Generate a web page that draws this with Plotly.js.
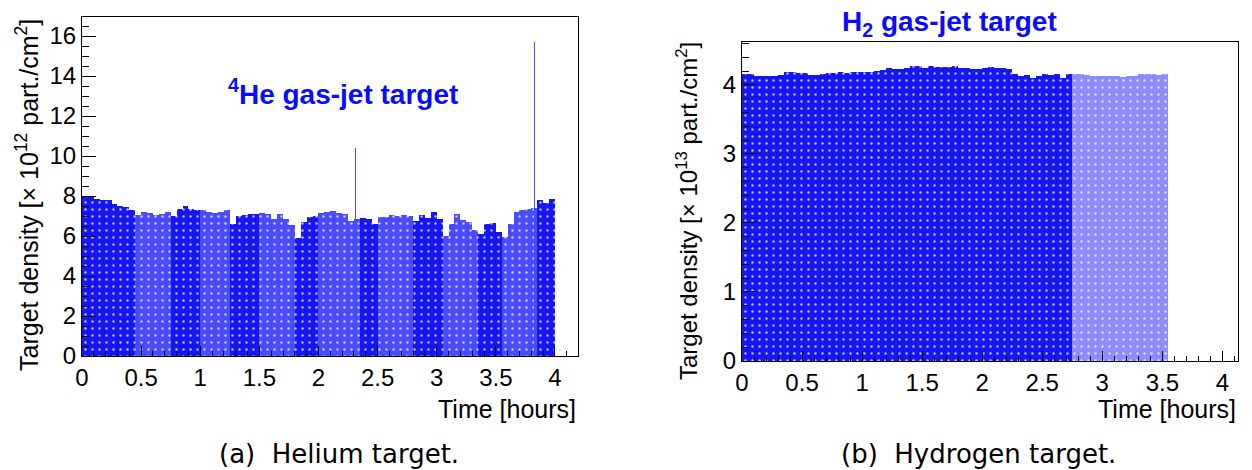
<!DOCTYPE html>
<html>
<head>
<meta charset="utf-8">
<script src="https://cdn.plot.ly/plotly-3.0.1.min.js"></script>
<style>
  html, body { margin: 0; padding: 0; background: #ffffff; }
  #chart { width: 1252px; height: 470px; }
</style>
</head>
<body>
<div id="chart"></div>
<script>
// ---------------- data ----------------
// (a) 4He gas-jet target: time bin centres [hours] and density [10^12 part./cm^2]
const heTime = [
  0.025,0.075,0.125,0.175,0.225,0.275,0.325,0.375,0.425,0.475,
  0.525,0.575,0.625,0.675,0.725,0.775,0.825,0.875,0.925,0.975,
  1.025,1.075,1.125,1.175,1.225,1.275,1.325,1.375,1.425,1.475,
  1.525,1.575,1.625,1.675,1.725,1.775,1.825,1.875,1.925,1.975,
  2.025,2.075,2.125,2.175,2.225,2.275,2.325,2.375,2.425,2.475,
  2.525,2.575,2.625,2.675,2.725,2.775,2.825,2.875,2.925,2.975,
  3.025,3.075,3.125,3.175,3.225,3.275,3.325,3.375,3.425,3.475,
  3.525,3.575,3.625,3.675,3.725,3.775,3.825,3.875,3.925,3.975
];
const heDensity = [
  7.95,7.95,7.85,7.80,7.80,7.60,7.50,7.45,7.30,7.05,
  7.20,7.15,7.05,7.10,7.20,7.00,7.35,7.50,7.35,7.30,
  7.30,7.20,7.15,7.20,7.30,6.60,7.00,7.05,7.10,7.10,
  7.15,7.10,6.85,7.10,6.85,6.55,5.90,6.70,6.95,7.00,
  7.15,7.20,7.25,7.15,7.10,6.75,6.85,6.90,6.85,6.60,
  6.95,6.95,7.05,7.00,7.05,7.00,6.75,7.05,6.90,7.20,
  6.85,6.00,6.60,7.10,6.80,6.70,6.30,6.10,6.60,6.65,
  6.20,5.95,6.60,7.20,7.30,7.35,7.40,7.80,7.65,7.85
];
// run the bin belongs to (0 = run A, 1 = run B)
const heRun = [
  0,0,0,0,0,0,0,0,0,1,
  1,1,1,1,1,0,0,0,0,0,
  1,1,1,1,1,0,0,0,0,0,
  1,1,1,1,1,1,0,0,0,0,
  1,1,1,1,1,1,1,0,0,0,
  1,1,1,1,1,1,0,0,0,0,
  0,1,1,1,1,1,1,0,0,0,
  0,1,1,1,1,1,1,0,0,0
];
const heSpikeTime = [2.31, 3.83];
const heSpikeDensity = [10.4, 15.7];

// (b) H2 gas-jet target: time bin centres [hours] and density [10^13 part./cm^2]
const h2Time = [
  0.025,0.075,0.125,0.175,0.225,0.275,0.325,0.375,0.425,0.475,
  0.525,0.575,0.625,0.675,0.725,0.775,0.825,0.875,0.925,0.975,
  1.025,1.075,1.125,1.175,1.225,1.275,1.325,1.375,1.425,1.475,
  1.525,1.575,1.625,1.675,1.725,1.775,1.825,1.875,1.925,1.975,
  2.025,2.075,2.125,2.175,2.225,2.275,2.325,2.375,2.425,2.475,
  2.525,2.575,2.625,2.675,2.725,2.775,2.825,2.875,2.925,2.975,
  3.025,3.075,3.125,3.175,3.225,3.275,3.325,3.375,3.425,3.475,
  3.525
];
const h2Density = [
  4.155,4.150,4.130,4.130,4.130,4.130,4.140,4.180,4.180,4.175,
  4.170,4.140,4.140,4.150,4.175,4.170,4.180,4.175,4.180,4.190,
  4.185,4.190,4.200,4.210,4.240,4.235,4.235,4.240,4.275,4.270,
  4.245,4.270,4.265,4.260,4.265,4.270,4.250,4.240,4.235,4.235,
  4.240,4.255,4.250,4.245,4.235,4.150,4.130,4.140,4.100,4.130,
  4.160,4.140,4.150,4.100,4.160,4.150,4.150,4.140,4.130,4.130,
  4.130,4.125,4.130,4.120,4.125,4.130,4.150,4.155,4.150,4.145,
  4.160
];
const h2Run = [
  0,0,0,0,0,0,0,0,0,0,
  0,0,0,0,0,0,0,0,0,0,
  0,0,0,0,0,0,0,0,0,0,
  0,0,0,0,0,0,0,0,0,0,
  0,0,0,0,0,0,0,0,0,0,
  0,0,0,0,0,1,1,1,1,1,
  1,1,1,1,1,1,1,1,1,1,
  1
];

const heTitle = '<b><sup>4</sup>He gas-jet target</b>';
const h2Title = '<b>H<sub>2</sub> gas-jet target</b>';
const heYTitle = 'Target density [× 10<sup>12</sup> part./cm<sup>2</sup>]';
const h2YTitle = 'Target density [× 10<sup>13</sup> part./cm<sup>2</sup>]';
const xTitle = 'Time [hours]';
const captionA = '(a)\u00a0 Helium target.';
const captionB = '(b)\u00a0 Hydrogen target.';

// ---------------- styling ----------------
const DARK = '#1616f4';
const HE_LIGHT = '#4a4aff';
const H2_LIGHT = '#8c8cff';
const FONT = 'Liberation Sans';

function pick(values, runs, want) {
  return values.map((v, i) => (runs[i] === want ? v : null));
}
function barTrace(x, y, color, xa, ya) {
  return {
    type: 'bar', x: x, y: y, xaxis: xa, yaxis: ya,
    marker: {
      color: color,
      line: { width: 0 },
      pattern: { shape: '.', fillmode: 'overlay', fgcolor: '#ffffff', fgopacity: 0.7, size: 7, solidity: 0.1 }
    },
    hoverinfo: 'x+y', showlegend: false
  };
}

const traces = [
  barTrace(heTime, pick(heDensity, heRun, 0), DARK, 'x', 'y'),
  barTrace(heTime, pick(heDensity, heRun, 1), HE_LIGHT, 'x', 'y'),
  {
    type: 'bar', x: heSpikeTime, y: heSpikeDensity, xaxis: 'x', yaxis: 'y',
    width: 0.009, marker: { color: '#4a4aff', line: { width: 0 } }, showlegend: false
  },
  barTrace(h2Time, pick(h2Density, h2Run, 0), DARK, 'x2', 'y2'),
  barTrace(h2Time, pick(h2Density, h2Run, 1), H2_LIGHT, 'x2', 'y2')
];

const W = 1252, H = 470;
function px(x) { return x / W; }
function py(y) { return 1 - y / H; }

const tickFont = { family: FONT, size: 24, color: '#000000' };
function xAxis(domain, range, anchor) {
  return {
    domain: domain, range: range, anchor: anchor,
    tick0: 0, dtick: 0.5, ticks: 'inside', ticklen: 10, tickwidth: 1, tickcolor: '#000000',
    minor: { dtick: 0.1, ticks: 'inside', ticklen: 5, tickwidth: 1, tickcolor: '#000000', showgrid: false },
    showline: true, linecolor: '#000000', linewidth: 1, mirror: true,
    showgrid: false, zeroline: false, tickfont: tickFont, fixedrange: true
  };
}
function yAxis(domain, range, anchor, dtick, minor) {
  return {
    domain: domain, range: range, anchor: anchor,
    tick0: 0, dtick: dtick, ticks: 'inside', ticklen: 14, tickwidth: 1, tickcolor: '#000000',
    minor: { dtick: minor, ticks: 'inside', ticklen: 7, tickwidth: 1, tickcolor: '#000000', showgrid: false },
    showline: true, linecolor: '#000000', linewidth: 1, mirror: true,
    showgrid: false, zeroline: false, tickfont: tickFont, fixedrange: true
  };
}

const layout = {
  width: W, height: H,
  margin: { l: 0, r: 0, t: 0, b: 0 },
  paper_bgcolor: '#ffffff', plot_bgcolor: '#ffffff',
  barmode: 'overlay', bargap: 0,
  showlegend: false,
  font: { family: FONT, color: '#000000' },
  xaxis: xAxis([px(82), px(578)], [0, 4.195], 'y'),
  yaxis: yAxis([py(356), py(17)], [0, 16.95], 'x', 2, 0.5),
  xaxis2: xAxis([px(742), px(1238)], [0, 4.13], 'y2'),
  yaxis2: yAxis([py(361), py(42)], [0, 4.62], 'x2', 1, 0.2),
  annotations: [
    { text: heTitle, x: px(343), y: py(92), xref: 'paper', yref: 'paper', xanchor: 'center', yanchor: 'middle',
      showarrow: false, font: { family: FONT, size: 28, color: '#0a0aff' } },
    { text: h2Title, x: px(949), y: py(23), xref: 'paper', yref: 'paper', xanchor: 'center', yanchor: 'middle',
      showarrow: false, font: { family: FONT, size: 28, color: '#0a0aff' } },
    { text: heYTitle, x: px(27), y: py(17), xref: 'paper', yref: 'paper', xanchor: 'center', yanchor: 'top',
      textangle: -90, showarrow: false, font: { family: FONT, size: 25, color: '#000000' } },
    { text: h2YTitle, x: px(687), y: py(40), xref: 'paper', yref: 'paper', xanchor: 'center', yanchor: 'top',
      textangle: -90, showarrow: false, font: { family: FONT, size: 24, color: '#000000' } },
    { text: xTitle, x: px(578), y: py(409), xref: 'paper', yref: 'paper', xanchor: 'right', yanchor: 'middle',
      showarrow: false, font: { family: FONT, size: 25, color: '#000000' } },
    { text: xTitle, x: px(1238), y: py(409), xref: 'paper', yref: 'paper', xanchor: 'right', yanchor: 'middle',
      showarrow: false, font: { family: FONT, size: 25, color: '#000000' } },
    { text: captionA, x: px(339), y: py(454), xref: 'paper', yref: 'paper', xanchor: 'center', yanchor: 'middle',
      showarrow: false, font: { family: 'DejaVu Sans', size: 26, color: '#000000' } },
    { text: captionB, x: px(978), y: py(454), xref: 'paper', yref: 'paper', xanchor: 'center', yanchor: 'middle',
      showarrow: false, font: { family: 'DejaVu Sans', size: 26, color: '#000000' } }
  ]
};

Plotly.newPlot('chart', traces, layout, { displayModeBar: false, staticPlot: true });
</script>
</body>
</html>
